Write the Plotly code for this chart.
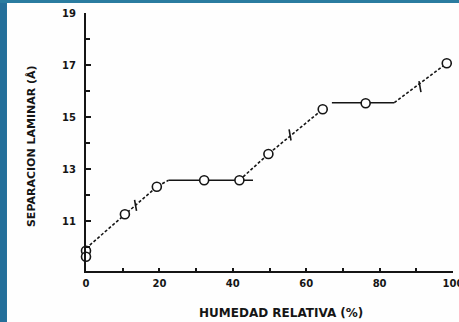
import plotly.graph_objects as go

# ---- data ----
humidity = [0, 0, 10.6, 19.3, 32.2, 41.8, 49.7, 64.5, 76.2, 98.3]
spacing = [9.86, 9.63, 11.26, 12.32, 12.57, 12.57, 13.58, 15.30, 15.53, 17.07]

# dotted transition segments
dot1_x = [0, 10.6, 19.3, 22.5]
dot1_y = [9.95, 11.26, 12.32, 12.57]
dot2_x = [41.8, 49.7, 64.5]
dot2_y = [12.57, 13.58, 15.30]
dot3_x = [84.0, 98.3]
dot3_y = [15.55, 17.07]

# solid plateaus
flat1_x = [22.5, 45.5]
flat1_y = [12.57, 12.57]
flat2_x = [67.0, 84.0]
flat2_y = [15.55, 15.55]

# small cross marks on the dotted segments
mark_x = [13.5, 55.6, 91.0]
mark_y = [11.6, 14.31, 16.17]

x_ticks = [0, 20, 40, 60, 80, 100]
x_minor = [10, 30, 50, 70, 90]
y_ticks = [11, 13, 15, 17, 19]
y_minor = [10, 12, 14, 16, 18]

x_title = "HUMEDAD RELATIVA (%)"
y_title = "SEPARACION LAMINAR (Å)"

INK = "#151515"
FONT = "DejaVu Sans"

fig = go.Figure()

dot_line = dict(color=INK, width=1.6, dash="3px,2px")
solid_line = dict(color=INK, width=1.6)

for xs, ys in [(dot1_x, dot1_y), (dot2_x, dot2_y), (dot3_x, dot3_y)]:
    fig.add_trace(go.Scatter(x=xs, y=ys, mode="lines", line=dot_line,
                             hoverinfo="skip", showlegend=False, cliponaxis=False))
for xs, ys in [(flat1_x, flat1_y), (flat2_x, flat2_y)]:
    fig.add_trace(go.Scatter(x=xs, y=ys, mode="lines", line=solid_line,
                             hoverinfo="skip", showlegend=False, cliponaxis=False))

fig.add_trace(go.Scatter(
    x=mark_x, y=mark_y, mode="markers", showlegend=False, hoverinfo="skip",
    marker=dict(symbol="line-ns", size=8, angle=-10,
                line=dict(color=INK, width=1.6)),
    cliponaxis=False))

fig.add_trace(go.Scatter(
    x=humidity, y=spacing, mode="markers", showlegend=False,
    marker=dict(symbol="circle", size=9, color="white",
                line=dict(color=INK, width=1.6)),
    cliponaxis=False))

fig.update_xaxes(
    range=[0, 100], tickvals=x_ticks, ticktext=[str(v) for v in x_ticks],
    ticks="inside", ticklen=3, tickwidth=2, tickcolor=INK,
    showline=True, linecolor=INK, linewidth=2.2, showgrid=False, zeroline=False,
    tickfont=dict(family=FONT, size=10, color=INK, weight="bold"),
    ticklabelstandoff=2, ticklabeloverflow="allow",
    minor=dict(tickvals=x_minor, ticks="inside", ticklen=3, tickwidth=2, tickcolor=INK),
)
fig.update_yaxes(
    range=[9.08, 19], tickvals=y_ticks, ticktext=[str(v) for v in y_ticks],
    ticks="inside", ticklen=5, tickwidth=2, tickcolor=INK,
    showline=True, linecolor=INK, linewidth=2.2, showgrid=False, zeroline=False,
    tickfont=dict(family=FONT, size=10, color=INK, weight="bold"),
    ticklabelstandoff=6, ticklabeloverflow="allow",
    minor=dict(tickvals=y_minor, ticks="inside", ticklen=4, tickwidth=2, tickcolor=INK),
)

# left and top blue slide border
fig.add_shape(type="rect", xref="paper", yref="paper",
              x0=-0.26, x1=-0.2153, y0=-0.3, y1=1.1,
              fillcolor="#246f9a", line=dict(width=0), layer="below")
fig.add_shape(type="rect", xref="paper", yref="paper",
              x0=-0.26, x1=1.05, y0=1.0388, y1=1.1,
              fillcolor="#2a7ca0", line=dict(width=0), layer="below")

fig.add_annotation(text=x_title, xref="paper", yref="paper",
                   x=0.531, y=-0.163, showarrow=False,
                   xanchor="center", yanchor="middle",
                   font=dict(family=FONT, size=12, color=INK, weight="bold"))
fig.add_annotation(text=y_title, xref="paper", yref="paper",
                   x=-0.147, y=0.4845, showarrow=False, textangle=-90,
                   xanchor="center", yanchor="middle",
                   font=dict(family=FONT, size=11, color=INK, weight="bold"))

fig.update_layout(
    width=459, height=322,
    margin=dict(l=86, r=6, t=13, b=51, autoexpand=False),
    paper_bgcolor="#fefefe", plot_bgcolor="#fefefe",
)

fig.write_html("out.html",
               config={"displayModeBar": False},
               post_script="document.body.style.margin='0';document.body.style.overflow='hidden';")
